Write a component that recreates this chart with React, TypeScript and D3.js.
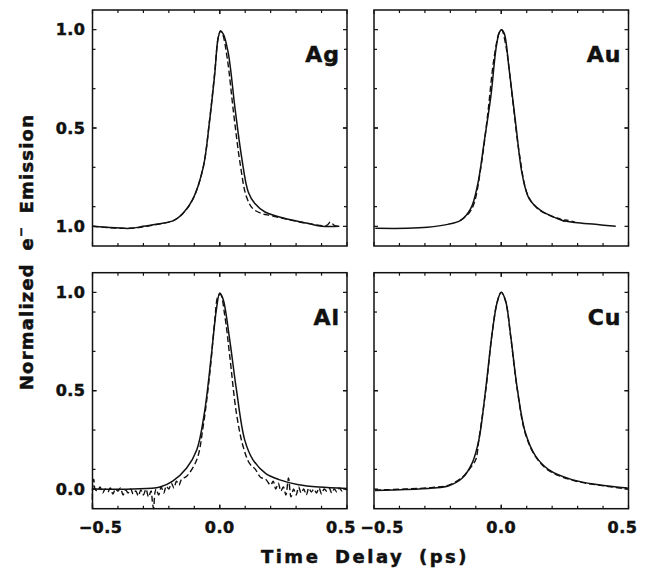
import React from 'react';
import * as d3 from 'd3';

// time delay (ps), normalized emission
const agSolid: [number, number][] = [
  [-0.5, 0.0], [-0.45, -0.005], [-0.35, -0.01], [-0.3, 0.0], [-0.23, 0.014], [-0.18, 0.03],
  [-0.145, 0.065], [-0.105, 0.14], [-0.065, 0.3], [-0.04, 0.535], [-0.02, 0.77], [-0.006, 0.96],
  [0.003, 0.99], [0.013, 0.98], [0.033, 0.885], [0.06, 0.6], [0.085, 0.36], [0.112, 0.175],
  [0.138, 0.116], [0.178, 0.073], [0.257, 0.04], [0.35, 0.014], [0.4, 0.0], [0.47, 0.0],
];
const agDashed: [number, number][] = [
  [-0.5, 0.0], [-0.35, -0.01], [-0.23, 0.014], [-0.18, 0.03], [-0.145, 0.065], [-0.105, 0.14],
  [-0.065, 0.3], [-0.04, 0.54], [-0.02, 0.78], [-0.006, 0.96], [0.003, 0.995], [0.012, 0.975],
  [0.03, 0.85], [0.055, 0.57], [0.08, 0.32], [0.105, 0.15], [0.13, 0.09], [0.165, 0.065],
  [0.2, 0.055], [0.257, 0.038], [0.35, 0.014], [0.42, 0.005], [0.435, 0.022], [0.45, 0.005], [0.47, 0.0],
];

const auSolid: [number, number][] = [
  [-0.495, -0.01], [-0.37, -0.01], [-0.29, -0.005], [-0.21, 0.01], [-0.16, 0.03], [-0.12, 0.09],
  [-0.093, 0.21], [-0.067, 0.43], [-0.04, 0.67], [-0.021, 0.9], [-0.008, 0.985], [0.001, 1.0],
  [0.012, 0.98], [0.03, 0.81], [0.057, 0.52], [0.083, 0.26], [0.11, 0.14], [0.156, 0.08],
  [0.22, 0.04], [0.24, 0.03], [0.29, 0.02], [0.37, 0.01], [0.45, 0.0],
];
const auDashed: [number, number][] = [
  [-0.16, 0.03], [-0.125, 0.07], [-0.106, 0.12], [-0.08, 0.3], [-0.054, 0.56], [-0.029, 0.85],
  [-0.008, 0.985], [0.001, 1.0], [0.018, 0.92], [0.045, 0.64], [0.071, 0.37], [0.104, 0.16],
  [0.143, 0.09], [0.2, 0.05], [0.235, 0.035], [0.24, 0.02], [0.25, 0.032], [0.29, 0.02],
];

const alSolid: [number, number][] = [
  [-0.5, 0.0], [-0.34, 0.0], [-0.235, 0.01], [-0.185, 0.04], [-0.13, 0.107], [-0.09, 0.2],
  [-0.06, 0.39], [-0.033, 0.68], [-0.013, 0.915], [0.0, 0.997], [0.013, 0.966], [0.039, 0.76],
  [0.065, 0.51], [0.098, 0.25], [0.13, 0.15], [0.18, 0.08], [0.233, 0.048], [0.31, 0.022],
  [0.39, 0.01], [0.5, 0.003],
];
// noisy measured trace
const alDashed: [number, number][] = [
  [-0.5, -0.1], [-0.5, 0.0], [-0.495, 0.05], [-0.49, 0.0], [-0.48, -0.01], [-0.47, 0.01],
  [-0.46, -0.02], [-0.45, 0.0], [-0.44, -0.015], [-0.43, 0.005], [-0.42, -0.025], [-0.41, 0.0],
  [-0.4, -0.01], [-0.39, 0.005], [-0.38, -0.03], [-0.37, -0.005], [-0.36, -0.02], [-0.35, 0.0],
  [-0.34, -0.025], [-0.33, -0.01], [-0.32, -0.035], [-0.31, -0.005], [-0.3, -0.03], [-0.29, 0.0],
  [-0.28, -0.04], [-0.27, -0.01], [-0.265, -0.06], [-0.26, -0.1], [-0.255, -0.02], [-0.25, 0.0],
  [-0.24, -0.03], [-0.23, 0.01], [-0.22, -0.02], [-0.21, 0.015], [-0.2, 0.0], [-0.19, 0.03],
  [-0.18, 0.005], [-0.17, 0.04], [-0.16, 0.02], [-0.15, 0.05], [-0.13, 0.065], [-0.09, 0.15],
  [-0.065, 0.32], [-0.039, 0.59], [-0.02, 0.85], [-0.007, 0.98], [0.003, 0.99], [0.02, 0.88],
  [0.039, 0.68], [0.065, 0.39], [0.091, 0.22], [0.117, 0.13], [0.14, 0.1], [0.16, 0.06],
  [0.18, 0.05], [0.2, 0.02], [0.21, 0.04], [0.22, 0.0], [0.23, 0.03], [0.24, -0.01],
  [0.25, 0.01], [0.26, -0.03], [0.27, 0.056], [0.28, -0.04], [0.29, 0.0], [0.3, -0.03],
  [0.31, 0.01], [0.32, -0.02], [0.33, 0.0], [0.34, -0.03], [0.35, 0.005], [0.36, -0.015],
  [0.37, 0.0], [0.38, -0.02], [0.39, 0.005], [0.4, -0.025], [0.41, 0.0], [0.42, -0.01],
  [0.43, 0.005], [0.44, -0.02], [0.45, 0.0], [0.46, -0.015], [0.47, 0.005], [0.48, -0.01],
  [0.49, 0.0], [0.5, -0.005],
];

const cuSolid: [number, number][] = [
  [-0.496, -0.007], [-0.376, -0.003], [-0.27, 0.005], [-0.206, 0.017], [-0.153, 0.056],
  [-0.114, 0.133], [-0.088, 0.25], [-0.061, 0.51], [-0.035, 0.8], [-0.016, 0.95], [0.0, 1.0],
  [0.017, 0.957], [0.037, 0.78], [0.063, 0.51], [0.095, 0.286], [0.135, 0.167], [0.186, 0.099],
  [0.278, 0.048], [0.382, 0.022], [0.497, 0.005],
];
const cuDashed: [number, number][] = [
  [-0.496, -0.005], [-0.376, 0.0], [-0.27, 0.008], [-0.206, 0.02], [-0.153, 0.06], [-0.12, 0.11],
  [-0.1, 0.15], [-0.088, 0.25], [-0.061, 0.5], [-0.035, 0.8], [-0.016, 0.95], [0.0, 1.0],
  [0.017, 0.955], [0.037, 0.775], [0.063, 0.505], [0.095, 0.28], [0.135, 0.165], [0.186, 0.095],
  [0.278, 0.045], [0.382, 0.02], [0.497, 0.0],
];

const xMinorTicks = [-0.4, -0.3, -0.2, -0.1, 0.0, 0.1, 0.2, 0.3, 0.4];
const xLabelTicks = [-0.5, 0.0, 0.5];
const xLabelText = ['\u22120.5', '0.0', '0.5'];
const yMinorTicks = [0.1, 0.3, 0.5, 0.7, 0.9];
const yLabelTicks = [0.0, 0.5, 1.0];
const yLabelsTop = ['1.0', '0.5', '1.0'];
const yLabelsBottom = ['0.0', '0.5', '1.0'];

const W = 648;
const H = 582;
const PW = 254.5;
const PH = 236;
const FONT = '"DejaVu Sans", sans-serif';
const INK = '#111';

const panels = [
  { name: 'Ag', x0: 92.5, y0: 10, solid: agSolid, dashed: agDashed, yLabels: yLabelsTop, xLabels: false },
  { name: 'Au', x0: 374, y0: 10, solid: auSolid, dashed: auDashed, yLabels: null, xLabels: false },
  { name: 'Al', x0: 92.5, y0: 272.7, solid: alSolid, dashed: alDashed, yLabels: yLabelsBottom, xLabels: true },
  { name: 'Cu', x0: 374, y0: 272.7, solid: cuSolid, dashed: cuDashed, yLabels: null, xLabels: true },
];

// bold text a bit heavier, like the scanned original
const heavy = { fontFamily: FONT, fontWeight: 'bold' as const, fill: INK, stroke: INK, strokeWidth: 0.5 };

const Panel = ({ p }: { p: typeof panels[number] }) => {
  const x = d3.scaleLinear().domain([-0.5, 0.5]).range([0, PW]);
  const y = d3.scaleLinear().domain([-0.1, 1.1]).range([PH, 0]);
  const line = d3.line<[number, number]>()
    .x(d => x(d[0]))
    .y(d => y(d[1]))
    .curve(d3.curveCatmullRom.alpha(0.5));
  const labelShift = [8, 0, -6];

  return (
    <g transform={`translate(${p.x0},${p.y0})`}>
      <path d={line(p.dashed) || ''} fill="none" stroke={INK} strokeWidth={1.4} strokeDasharray="6,3" />
      <path d={line(p.solid) || ''} fill="none" stroke={INK} strokeWidth={1.5} />
      <rect x={0} y={0} width={PW} height={PH} fill="none" stroke={INK} strokeWidth={1.5} />
      {[...xMinorTicks, ...xLabelTicks].map((t, i) => {
        const len = xLabelTicks.includes(t) ? 4 : 3;
        return (
          <g key={`xt${i}`} stroke={INK} strokeWidth={1.2}>
            <line x1={x(t)} x2={x(t)} y1={PH} y2={PH - len} />
            <line x1={x(t)} x2={x(t)} y1={0} y2={len} />
          </g>
        );
      })}
      {[...yMinorTicks, ...yLabelTicks].map((t, i) => {
        const len = yLabelTicks.includes(t) ? 4 : 3;
        return (
          <g key={`yt${i}`} stroke={INK} strokeWidth={1.2}>
            <line x1={0} x2={len} y1={y(t)} y2={y(t)} />
            <line x1={PW} x2={PW - len} y1={y(t)} y2={y(t)} />
          </g>
        );
      })}
      {p.yLabels && yLabelTicks.map((t, i) => (
        <text key={`yl${i}`} x={-7} y={y(t)} dy="0.36em" textAnchor="end" fontSize={16}
          letterSpacing={0.5} {...heavy}>{p.yLabels![i]}</text>
      ))}
      {p.xLabels && xLabelTicks.map((t, i) => (
        <text key={`xl${i}`} x={x(t) + labelShift[i]} y={PH + 24.5} textAnchor="middle" fontSize={16}
          letterSpacing={0.5} {...heavy}>{xLabelText[i]}</text>
      ))}
      <text x={PW - 7} y={52} textAnchor="end" fontSize={22} letterSpacing={1} {...heavy}>{p.name}</text>
    </g>
  );
};

export default function App() {
  return (
    <svg width={W} height={H} style={{ position: 'absolute', left: 0, top: 0, background: '#fff' }}>
      <rect width={W} height={H} fill="#fff" />
      {panels.map(p => <Panel key={p.name} p={p} />)}
      <text x={365} y={563} textAnchor="middle" fontSize={18} letterSpacing={2.5} wordSpacing={6}
        {...heavy}>Time Delay (ps)</text>
      <text transform="translate(33,252) rotate(-90)" textAnchor="middle" fontSize={18}
        letterSpacing={1.2} wordSpacing={5} {...heavy}>
        Normalized e<tspan dy={-8} fontSize={12}>{'\u2212'}</tspan><tspan dy={8}> Emission</tspan>
      </text>
    </svg>
  );
}
